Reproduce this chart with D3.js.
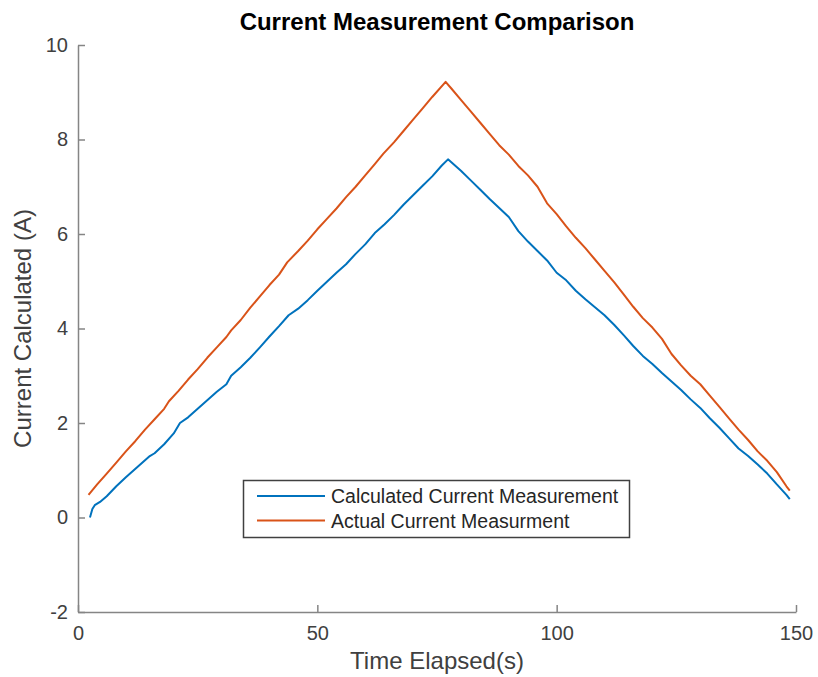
<!DOCTYPE html>
<html>
<head>
<meta charset="utf-8">
<script src="https://cdn.jsdelivr.net/npm/d3@7"></script>
<style>
  html, body { margin: 0; padding: 0; background: #fff; }
  svg { display: block; }
  text { font-family: "Liberation Sans", Arial, Helvetica, sans-serif; }
</style>
</head>
<body>
<svg id="chart" width="818" height="677"></svg>
<script>
// ---- data ----
const calcTime = [2.5,3.0,3.5,4.6,6,8,10,11,13,15,16,18,20,21.3,23,25,27,29,31,32,34,36,38,40,42,44,46,48,50,52,54,56,58,60,62,64,66,68,70,72,74,76,77.3,78,80,82,84,86,88,90,92,94,96,98,100,102,104,106,108,110,112,114,116,118,120,122,124,126,128,130,132,134,136,138,140,142,144,146,148,148.7];
const calcValues = [0.00,0.18,0.26,0.33,0.45,0.66,0.85,0.94,1.12,1.30,1.36,1.55,1.78,2.00,2.12,2.30,2.48,2.66,2.82,3.00,3.18,3.38,3.60,3.83,4.05,4.28,4.42,4.60,4.80,4.99,5.18,5.36,5.58,5.78,6.02,6.20,6.40,6.62,6.82,7.02,7.22,7.45,7.58,7.52,7.34,7.14,6.94,6.74,6.55,6.36,6.06,5.84,5.64,5.44,5.18,5.02,4.80,4.62,4.45,4.28,4.08,3.86,3.63,3.42,3.25,3.06,2.88,2.70,2.50,2.32,2.10,1.90,1.68,1.46,1.30,1.12,0.93,0.70,0.48,0.39];
const actualTime = [2.2,4,6,8,10,12,14,16,18,19,21,23,25,27,29,31,32,34,36,38,40,42,43.7,46,48,50,52,54,56,58,60,62,63.8,66,68,70,72,74,76.8,78,80,82,84,86,88,90,92,94,96,98,100,102,104,106,108,110,112,114,116,118,120,122,124,126,128,130,132,134,136,138,140,142,144,146,148,148.7];
const actualValues = [0.48,0.70,0.93,1.16,1.40,1.62,1.86,2.08,2.30,2.46,2.68,2.92,3.14,3.38,3.60,3.82,3.96,4.18,4.44,4.68,4.92,5.14,5.40,5.64,5.86,6.10,6.32,6.54,6.78,7.00,7.24,7.48,7.70,7.94,8.18,8.42,8.66,8.90,9.22,9.08,8.84,8.60,8.36,8.12,7.88,7.68,7.44,7.24,7.00,6.65,6.42,6.16,5.92,5.70,5.46,5.22,4.98,4.72,4.46,4.22,4.02,3.78,3.46,3.22,3.00,2.82,2.58,2.34,2.10,1.86,1.64,1.40,1.20,0.96,0.66,0.57];
const seriesNames = ["Calculated Current Measurement", "Actual Current Measurment"];
const xTicks = [0, 50, 100, 150];
const yTicks = [-2, 0, 2, 4, 6, 8, 10];
const titleText = "Current Measurement Comparison";
const xLabel = "Time Elapsed(s)";
const yLabel = "Current Calculated (A)";

// ---- layout ----
const colors = ["#0072BD", "#D95319"];
const plot = { left: 78, right: 796, top: 45, bottom: 612 };
const svg = d3.select("#chart");

const x = d3.scaleLinear().domain([0, 150]).range([plot.left, plot.right]);
const y = d3.scaleLinear().domain([-2, 10]).range([plot.bottom, plot.top]);

const axisColor = "#858585";
const textColor = "#404040";

// x axis (ticks inward)
const gx = svg.append("g")
  .attr("transform", `translate(0,${plot.bottom})`)
  .call(d3.axisBottom(x).tickValues(xTicks).tickSizeInner(-7).tickSizeOuter(0).tickPadding(14).tickFormat(d => String(d)));
// y axis
const gy = svg.append("g")
  .attr("transform", `translate(${plot.left},0)`)
  .call(d3.axisLeft(y).tickValues(yTicks).tickSizeInner(-7).tickSizeOuter(0).tickPadding(10).tickFormat(d => String(d)));

[gx, gy].forEach(g => {
  g.select(".domain").attr("stroke", axisColor).attr("stroke-width", 1.5);
  g.selectAll(".tick line").attr("stroke", axisColor).attr("stroke-width", 1.5);
  g.selectAll(".tick text").attr("fill", textColor).style("font-size", "20px");
});

// lines
const lineGen = d3.line().x(d => x(d[0])).y(d => y(d[1]));
const series = [
  d3.zip(calcTime, calcValues),
  d3.zip(actualTime, actualValues)
];
series.forEach((s, i) => {
  svg.append("path")
    .datum(s)
    .attr("fill", "none")
    .attr("stroke", colors[i])
    .attr("stroke-width", 2)
    .attr("stroke-linejoin", "round")
    .attr("d", lineGen);
});

// title
svg.append("text")
  .attr("x", (plot.left + plot.right) / 2)
  .attr("y", 30)
  .attr("text-anchor", "middle")
  .attr("font-weight", "bold")
  .attr("fill", "#000")
  .style("font-size", "24px")
  .text(titleText);

// axis labels
svg.append("text")
  .attr("x", (plot.left + plot.right) / 2)
  .attr("y", 669)
  .attr("text-anchor", "middle")
  .attr("fill", textColor)
  .style("font-size", "24px")
  .text(xLabel);

svg.append("text")
  .attr("transform", `translate(31,${(plot.top + plot.bottom) / 2}) rotate(-90)`)
  .attr("text-anchor", "middle")
  .attr("fill", textColor)
  .style("font-size", "24px")
  .text(yLabel);

// legend
const lg = svg.append("g");
lg.append("rect")
  .attr("x", 243.5).attr("y", 480.5).attr("width", 386).attr("height", 57)
  .attr("fill", "#fff").attr("stroke", "#404040").attr("stroke-width", 1.5);
seriesNames.forEach((name, i) => {
  const yy = 496 + i * 24.5;
  lg.append("line")
    .attr("x1", 257).attr("x2", 325).attr("y1", yy).attr("y2", yy)
    .attr("stroke", colors[i]).attr("stroke-width", 2);
  lg.append("text")
    .attr("x", 331).attr("y", yy + 7)
    .attr("fill", "#262626")
    .style("font-size", "19.5px")
    .text(name);
});
</script>
</body>
</html>
